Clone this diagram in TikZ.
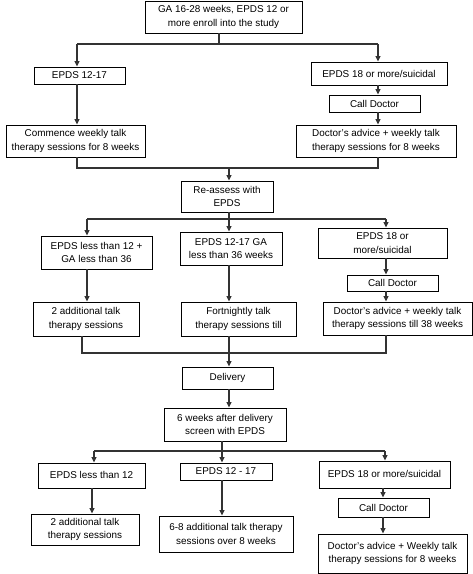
\documentclass[tikz,border=0pt]{standalone}
\usepackage{fontspec}
\setmainfont{Liberation Sans}
\usetikzlibrary{arrows.meta}
\begin{document}
\begin{tikzpicture}[x=1pt,y=-1pt,
  box/.style={draw=black,line width=0.9pt,fill=white,align=center,inner sep=0pt,
    font=\fontsize{9.9}{13.8}\selectfont},
  conn/.style={draw=black!80,line width=1.1pt},
  arr/.style={conn,-{Triangle[length=5.5pt,width=5pt]}}]
\useasboundingbox (0,0) rectangle (473,574);
% nodes
\node[box,minimum width=157,minimum height=32] (n1) at (223.5,17) {GA 16-28 weeks, EPDS 12 or\\more enroll into the study};
\node[box,minimum width=91,minimum height=17] (e1) at (79.5,75.5) {EPDS 12-17};
\node[box,minimum width=136,minimum height=23] (e2) at (379,73.5) {EPDS 18 or more/suicidal};
\node[box,minimum width=91,minimum height=17] (cd1) at (374.5,103.5) {Call Doctor};
\node[box,minimum width=139,minimum height=32] (c1) at (75.5,141) {Commence weekly talk\\therapy sessions for 8 weeks};
\node[box,minimum width=160,minimum height=32] (c2) at (376,141) {Doctor's advice + weekly talk\\therapy sessions for 8 weeks};
\node[box,minimum width=92,minimum height=31] (ra) at (227,196.5) {Re-assess with\\EPDS};
\node[box,minimum width=111,minimum height=33] (m1) at (96.5,252.5) {EPDS less than 12 +\\GA less than 36};
\node[box,minimum width=102,minimum height=33] (m2) at (231,248.5) {EPDS 12-17 GA\\less than 36 weeks};
\node[box,minimum width=129,minimum height=30] (m3) at (382.5,243) {EPDS 18 or\\more/suicidal};
\node[box,minimum width=91,minimum height=16] (cd2) at (392.5,283) {Call Doctor};
\node[box,minimum width=106,minimum height=34] (a1) at (86,319) {2 additional talk\\therapy sessions};
\node[box,minimum width=115,minimum height=34] (a2) at (238.5,319) {Fortnightly talk\\therapy sessions till};
\node[box,minimum width=149,minimum height=33] (a3) at (397.5,318.5) {Doctor's advice + weekly talk\\therapy sessions till 38 weeks};
\node[box,minimum width=91,minimum height=22] (dl) at (227.5,378) {Delivery};
\node[box,minimum width=122,minimum height=33] (sw) at (225,424.5) {6 weeks after delivery\\screen with EPDS};
\node[box,minimum width=107,minimum height=25] (p1) at (91.5,475.5) {\raisebox{2pt}{EPDS less than 12}};
\node[box,minimum width=92,minimum height=17] (p2) at (226,471.5) {EPDS 12 - 17};
\node[box,minimum width=131,minimum height=27] (p3) at (384.5,474.5) {\raisebox{1.5pt}{EPDS 18 or more/suicidal}};
\node[box,minimum width=91,minimum height=19] (cd3) at (383.5,507.5) {Call Doctor};
\node[box,minimum width=108,minimum height=31] (q1) at (85,529.5) {2 additional talk\\therapy sessions};
\node[box,minimum width=134,minimum height=36] (q2) at (226,534) {6-8 additional talk therapy\\sessions over 8 weeks};
\node[box,minimum width=149,minimum height=39] (q3) at (392.5,553.5) {Doctor's advice + Weekly talk\\therapy sessions for 8 weeks};
% junction coordinates
\coordinate (j1) at (219,44);
\coordinate (j1l) at (77,44);
\coordinate (j1r) at (378,44);
\coordinate (j2) at (229,168);
\coordinate (j2l) at (77,168);
\coordinate (j2r) at (378,168);
\coordinate (j3) at (229,219);
\coordinate (j3l) at (87,219);
\coordinate (j3r) at (386,219);
\coordinate (j4) at (229,353);
\coordinate (j4l) at (82,353);
\coordinate (j4r) at (386,353);
\coordinate (j5) at (222,451);
\coordinate (j5l) at (94,451);
\coordinate (j5r) at (385,451);
% top section
\draw[conn] (j1 |- n1.south) -- (j1);
\draw[conn] (j1l) -- (j1r);
\draw[arr] (j1l) -- (j1l |- e1.north);
\draw[arr] (j1r) -- (j1r |- e2.north);
\draw[arr] (j1l |- e1.south) -- (j1l |- c1.north);
\draw[arr] (j1r |- e2.south) -- (j1r |- cd1.north);
\draw[arr] (j1r |- cd1.south) -- (j1r |- c2.north);
\draw[conn] (j2l |- c1.south) -- (j2l) -- (j2r) -- (j2r |- c2.south);
\draw[arr] (j2) -- (j2 |- ra.north);
% middle section
\draw[conn] (j3 |- ra.south) -- (j3);
\draw[conn] (j3l) -- (j3r);
\draw[arr] (j3l) -- (j3l |- m1.north);
\draw[arr] (j3) -- (j3 |- m2.north);
\draw[arr] (j3r) -- (j3r |- m3.north);
\draw[arr] (j3l |- m1.south) -- (j3l |- a1.north);
\draw[arr] (j3 |- m2.south) -- (j3 |- a2.north);
\draw[arr] (j3r |- m3.south) -- (j3r |- cd2.north);
\draw[arr] (j3r |- cd2.south) -- (j3r |- a3.north);
\draw[conn] (j4l |- a1.south) -- (j4l) -- (j4r) -- (j4r |- a3.south);
\draw[conn] (j4 |- a2.south) -- (j4);
\draw[arr] (j4) -- (j4 |- dl.north);
\draw[arr] (j4 |- dl.south) -- (j4 |- sw.north);
% bottom section
\draw[conn] (j5 |- sw.south) -- (j5);
\draw[conn] (j5l) -- (j5r);
\draw[arr] (j5l) -- (j5l |- p1.north);
\draw[arr] (j5) -- (j5 |- p2.north);
\draw[arr] (j5r) -- (j5r |- p3.north);
\draw[arr] (92,0 |- p1.south) -- (92,0 |- q1.north);
\draw[arr] (j5 |- p2.south) -- (j5 |- q2.north);
\draw[arr] (383,0 |- p3.south) -- (383,0 |- cd3.north);
\draw[arr] (383,0 |- cd3.south) -- (383,0 |- q3.north);
\end{tikzpicture}
\end{document}
